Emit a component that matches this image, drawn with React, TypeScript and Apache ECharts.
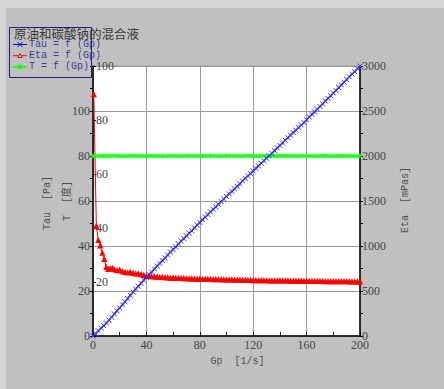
import React, { useEffect, useRef } from "react";
import * as echarts from "echarts";

// Shear rate Gp [1/s]
const gp = [
  0, 2, 4, 6, 8, 10, 12, 14, 16, 18, 20, 22, 24, 26, 28, 30, 32, 34, 36, 38, 40,
  42, 44, 46, 48, 50, 52, 54, 56, 58, 60, 62, 64, 66, 68, 70, 72, 74, 76, 78, 80,
  82, 84, 86, 88, 90, 92, 94, 96, 98, 100, 102, 104, 106, 108, 110, 112, 114, 116, 118, 120,
  122, 124, 126, 128, 130, 132, 134, 136, 138, 140, 142, 144, 146, 148, 150, 152, 154, 156, 158, 160,
  162, 164, 166, 168, 170, 172, 174, 176, 178, 180, 182, 184, 186, 188, 190, 192, 194, 196, 198, 200,
];

// Tau [Pa]
const tau = [
  0, 1.1, 2.3, 3.5, 4.6, 5.8, 7.1, 8.3, 9.8, 11.2, 12.5, 13.9, 15.2, 16.7, 18.1, 19.5, 20.9, 22.1, 23.4, 24.8, 26.0,
  27.3, 28.4, 29.8, 31.1, 32.3, 33.5, 34.7, 36.0, 37.3, 38.5, 39.6, 40.9, 42.2, 43.3, 44.5, 45.7, 46.8, 48.1, 49.3, 50.5,
  51.7, 52.8, 54.0, 55.2, 56.3, 57.4, 58.5, 59.7, 60.9, 62.0, 63.2, 64.3, 65.4, 66.5, 67.7, 68.9, 70.0, 71.1, 72.2, 73.4,
  74.5, 75.6, 76.8, 77.9, 79.0, 80.1, 81.2, 82.4, 83.6, 84.7, 85.8, 87.0, 88.1, 89.2, 90.4, 91.5, 92.7, 93.8, 94.9, 96.1,
  97.3, 98.5, 99.6, 100.8, 102.0, 103.2, 104.4, 105.6, 106.8, 108.0, 109.1, 110.4, 111.6, 112.8, 114.0, 115.2, 116.4, 117.5, 118.8, 120.0,
];

// Temperature T, plotted against the left scale
const tempT = [
  80, 80, 80.1, 80, 80, 79.9, 80, 80, 80.1, 80, 80, 80, 79.9, 80, 80, 80.1, 80, 80, 80, 79.9, 80,
  80, 80.1, 80, 80, 80, 79.9, 80, 80, 80.1, 80, 80, 80, 79.9, 80, 80, 80.1, 80, 80, 80, 80,
  79.9, 80, 80, 80.1, 80, 80, 80, 79.9, 80, 80, 80.1, 80, 80, 80, 79.9, 80, 80, 80.1, 80, 80,
  80, 79.9, 80, 80, 80.1, 80, 80, 80, 79.9, 80, 80, 80.1, 80, 80, 80, 79.9, 80, 80, 80.1, 80, 80,
  80, 79.9, 80, 80, 80.1, 80, 80, 80, 79.9, 80, 80, 80.1, 80, 80, 80, 79.9, 80, 80, 80.1, 80, 80,
];

// Viscosity Eta [mPas]
const gpEta = [
  0.6, 2.5, 4, 5.5, 7, 8.5, 10, 11.5, 13, 14.5, 16, 18, 20, 22, 24, 26, 28, 30, 32, 34, 36, 38, 40,
  42, 44, 46, 48, 50, 52, 54, 56, 58, 60, 62, 64, 66, 68, 70, 72, 74, 76, 78, 80,
  82, 84, 86, 88, 90, 92, 94, 96, 98, 100, 102, 104, 106, 108, 110, 112, 114, 116, 118, 120,
  122, 124, 126, 128, 130, 132, 134, 136, 138, 140, 142, 144, 146, 148, 150, 152, 154, 156, 158, 160,
  162, 164, 166, 168, 170, 172, 174, 176, 178, 180, 182, 184, 186, 188, 190, 192, 194, 196, 198, 200,
];
const eta = [
  2680, 1220, 1060, 1000, 920, 850, 760, 740, 745, 750, 735, 725, 730, 715, 705, 700, 705, 695, 690, 690, 680, 672, 662,
  660, 657, 655, 652, 650, 649, 646, 645, 643, 641, 640, 639, 638, 636, 635, 634, 633, 632, 631, 630,
  629, 628, 628, 627, 626, 625, 625, 624, 623, 622, 622, 621, 620, 620, 619, 618, 618, 617, 616, 615,
  615, 614, 614, 613, 613, 612, 612, 612, 611, 611, 611, 610, 610, 609, 609, 608, 608, 608, 607, 607,
  607, 606, 606, 606, 605, 605, 604, 604, 604, 603, 603, 603, 602, 602, 602, 601, 601, 601, 600, 600,
];

const xTicks = [0, 40, 80, 120, 160, 200];

const serif = "Liberation Serif";
const mono = "Liberation Mono";
const labelColor = "#454545";

const X_SYMBOL = "path://M0,0L10,10M10,0L0,10";
const STAR_SYMBOL = "path://M5,0L5,10M0,5L10,5M1.5,1.5L8.5,8.5M8.5,1.5L1.5,8.5";

export default function App() {
  const ref = useRef<HTMLDivElement>(null);
  useEffect(() => {
    if (!ref.current) return;
    const chart = echarts.init(ref.current, null, { renderer: "svg" });
    const axisLabel = { fontFamily: serif, fontSize: 12, color: labelColor };
    const legendY = [44.5, 55.7, 66.8];
    const Z = 100;
    const option: any = {
      animation: false,
      backgroundColor: "#d6d6d6",
      grid: {
        left: 93,
        top: 66,
        width: 267,
        height: 270,
        show: true,
        backgroundColor: "#ffffff",
        borderColor: "#9a9a9a",
        borderWidth: 1,
      },
      xAxis: {
        type: "value",
        min: 0,
        max: 200,
        interval: 40,
        axisLine: { show: true, onZero: false, lineStyle: { color: "#000", width: 1.5 } },
        axisTick: { show: true, inside: true, length: 4, lineStyle: { color: "#000" } },
        minorTick: { show: true, splitNumber: 2, length: 4, lineStyle: { color: "#000" } },
        splitLine: { show: true, lineStyle: { color: "#9a9a9a", width: 1 } },
        axisLabel: { ...axisLabel, margin: 3, formatter: (v: number) => (xTicks.includes(v) ? String(v) : "") },
      },
      yAxis: [
        {
          type: "value",
          position: "left",
          min: 0,
          max: 120,
          interval: 20,
          axisLine: { show: true, onZero: false, lineStyle: { color: "#000", width: 1.5 } },
          axisTick: { show: true, inside: false, length: 3, lineStyle: { color: "#000" } },
          minorTick: { show: true, splitNumber: 2, length: 3, lineStyle: { color: "#000" } },
          splitLine: { show: true, lineStyle: { color: "#9a9a9a", width: 1 } },
          axisLabel: { ...axisLabel, margin: 3, formatter: (v: number) => (v === 120 ? "" : String(v)) },
        },
        {
          type: "value",
          position: "left",
          offset: 0,
          min: 0,
          max: 100,
          interval: 20,
          axisLine: { show: false },
          axisTick: { show: true, inside: true, length: 3, lineStyle: { color: "#000" } },
          splitLine: { show: false },
          axisLabel: { ...axisLabel, inside: true, margin: 3, formatter: (v: number) => (v === 0 ? "" : String(v)) },
        },
        {
          type: "value",
          position: "right",
          min: 0,
          max: 3000,
          interval: 500,
          axisLine: { show: true, onZero: false, lineStyle: { color: "#000", width: 1.5 } },
          axisTick: { show: true, inside: false, length: 3, lineStyle: { color: "#000" } },
          minorTick: { show: true, splitNumber: 2, length: 3, lineStyle: { color: "#000" } },
          splitLine: { show: false },
          axisLabel: { ...axisLabel, margin: 2, formatter: (v: number) => String(v) },
        },
      ],
      series: [
        {
          name: "Tau = f (Gp)",
          type: "line",
          yAxisIndex: 0,
          data: gp.map((g, i) => [g, tau[i]]),
          symbol: X_SYMBOL,
          symbolSize: 5,
          showAllSymbol: true,
          lineStyle: { color: "#0000ff", width: 1.5 },
          itemStyle: { color: "#3a3aff", borderColor: "#3a3aff", borderWidth: 1 },
          z: 3,
        },
        {
          name: "Eta = f (Gp)",
          type: "line",
          yAxisIndex: 2,
          data: gpEta.map((g, i) => [g, eta[i]]),
          symbol: "emptyTriangle",
          symbolSize: 3,
          showAllSymbol: true,
          lineStyle: { color: "#ff0000", width: 1 },
          itemStyle: { color: "#ff0000", borderColor: "#ff2020", borderWidth: 1 },
          z: 2,
        },
        {
          name: "T = f (Gp)",
          type: "line",
          yAxisIndex: 0,
          data: gp.map((g, i) => [g, tempT[i]]),
          symbol: STAR_SYMBOL,
          symbolSize: 5,
          showAllSymbol: true,
          lineStyle: { color: "#00ff00", width: 2 },
          itemStyle: { color: "#20ff20", borderColor: "#20ff20", borderWidth: 1 },
          z: 2,
        },
      ],
      graphic: [
        { type: "rect", shape: { x: 6, y: 8, width: 440, height: 383 }, style: { fill: "#c0c0c0" }, z: -10, silent: true },
        // axis names
        {
          type: "text", x: 47, y: 203, rotation: Math.PI / 2,
          style: { text: "Tau  [Pa]", font: `10px "${mono}"`, fill: "#505050", align: "center", verticalAlign: "middle" },
        },
        {
          type: "text", x: 67, y: 201, rotation: Math.PI / 2,
          style: { text: "T  [度]", font: `10px "${mono}", "Noto Sans CJK SC"`, fill: "#505050", align: "center", verticalAlign: "middle" },
        },
        {
          type: "text", x: 405, y: 200, rotation: Math.PI / 2,
          style: { text: "Eta  [mPas]", font: `10px "${mono}"`, fill: "#505050", align: "center", verticalAlign: "middle" },
        },
        {
          type: "text", x: 237.5, y: 361,
          style: { text: "Gp  [1/s]", font: `10px "${mono}"`, fill: "#505050", align: "center", verticalAlign: "middle" },
        },
        // legend box
        { type: "rect", z: Z, shape: { x: 9.5, y: 27.5, width: 82, height: 50 }, style: { fill: "none", stroke: "#20207a", lineWidth: 1 } },
        {
          type: "text", z: Z, x: 14, y: 33.5,
          style: { text: "原油和碳酸钠的混合液", font: `12.5px "Noto Sans CJK SC"`, fill: "#383838", align: "left", verticalAlign: "middle" },
        },
        // legend item: Tau
        { type: "line", z: Z, shape: { x1: 13, y1: legendY[0], x2: 27, y2: legendY[0] }, style: { stroke: "#0000ff", lineWidth: 1 } },
        { type: "line", z: Z, shape: { x1: 17.5, y1: legendY[0] - 2.5, x2: 22.5, y2: legendY[0] + 2.5 }, style: { stroke: "#0000ff", lineWidth: 1 } },
        { type: "line", z: Z, shape: { x1: 22.5, y1: legendY[0] - 2.5, x2: 17.5, y2: legendY[0] + 2.5 }, style: { stroke: "#0000ff", lineWidth: 1 } },
        { type: "text", z: Z, x: 29, y: legendY[0], style: { text: "Tau = f (Gp)", font: `10px "${mono}"`, fill: "#3c3c9c", verticalAlign: "middle" } },
        // legend item: Eta
        { type: "line", z: Z, shape: { x1: 13, y1: legendY[1], x2: 27, y2: legendY[1] }, style: { stroke: "#ff0000", lineWidth: 1 } },
        { type: "polygon", z: Z, shape: { points: [[20, legendY[1] - 2], [22.2, legendY[1] + 1.8], [17.8, legendY[1] + 1.8]] }, style: { fill: "#ffffff", stroke: "#ff0000", lineWidth: 1 } },
        { type: "text", z: Z, x: 29, y: legendY[1], style: { text: "Eta = f (Gp)", font: `10px "${mono}"`, fill: "#3c3c9c", verticalAlign: "middle" } },
        // legend item: T
        { type: "line", z: Z, shape: { x1: 13, y1: legendY[2], x2: 27, y2: legendY[2] }, style: { stroke: "#00ff00", lineWidth: 1.5 } },
        { type: "line", z: Z, shape: { x1: 17.5, y1: legendY[2] - 2.5, x2: 22.5, y2: legendY[2] + 2.5 }, style: { stroke: "#00ff00", lineWidth: 1 } },
        { type: "line", z: Z, shape: { x1: 22.5, y1: legendY[2] - 2.5, x2: 17.5, y2: legendY[2] + 2.5 }, style: { stroke: "#00ff00", lineWidth: 1 } },
        { type: "line", z: Z, shape: { x1: 20, y1: legendY[2] - 3, x2: 20, y2: legendY[2] + 3 }, style: { stroke: "#00ff00", lineWidth: 1 } },
        { type: "text", z: Z, x: 29, y: legendY[2], style: { text: "T = f (Gp)", font: `10px "${mono}"`, fill: "#3c3c9c", verticalAlign: "middle" } },
      ],
    };
    chart.setOption(option);
    return () => chart.dispose();
  }, []);
  return (
    <div
      ref={ref}
      style={{ position: "absolute", left: 0, top: 0, width: 444, height: 389 }}
    />
  );
}
